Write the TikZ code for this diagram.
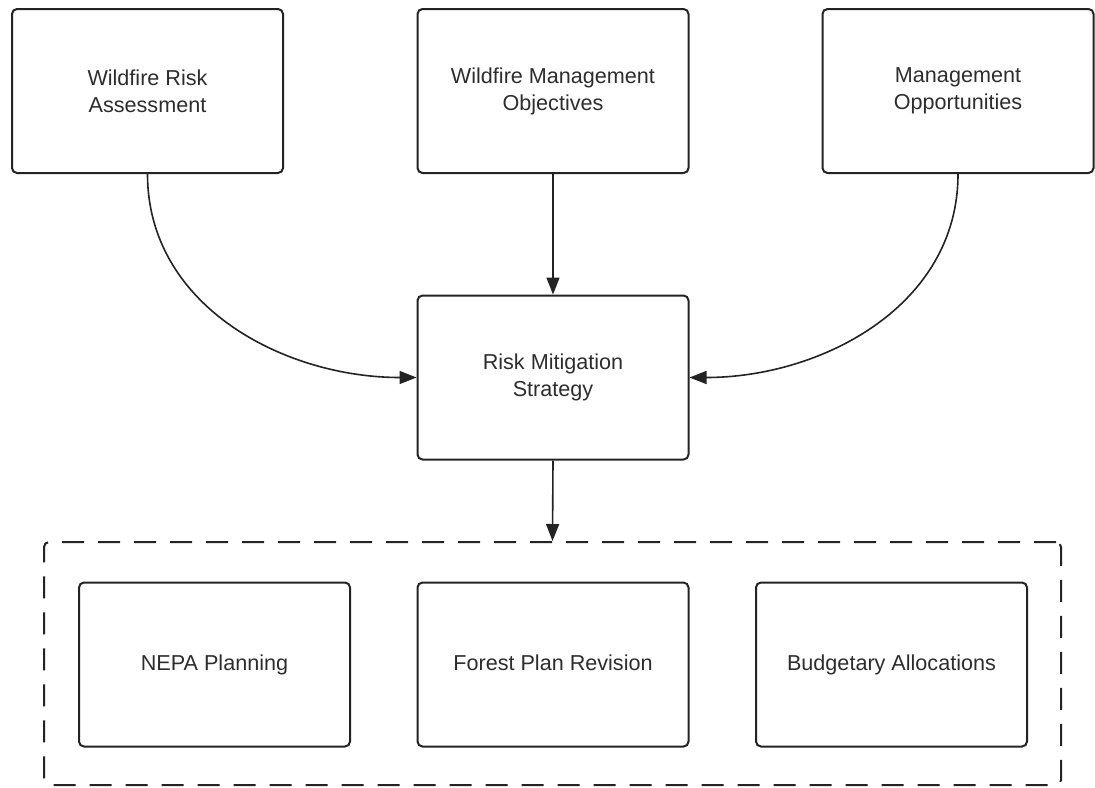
\documentclass[tikz,border=0pt]{standalone}
\usepackage{fontspec}
\setmainfont{Liberation Sans}
\usetikzlibrary{arrows.meta}
\definecolor{inkgrey}{RGB}{35,35,35}
\definecolor{textgrey}{RGB}{45,45,45}

\begin{document}
\begin{tikzpicture}[x=0.5pt, y=-0.5pt,
    box/.style={draw=inkgrey, line width=1pt, rounded corners=2.5pt,
      minimum width=135.5pt, minimum height=82pt, inner sep=0pt,
      align=center, text=textgrey, font=\fontsize{10.8}{13.5}\selectfont},
    outbox/.style={box, text height=7.8pt, text depth=2.2pt},
    groupbox/.style={draw=inkgrey, line width=1pt, dash pattern=on 11pt off 7pt,
      rounded corners=2.5pt, minimum width=508.5pt, minimum height=121.5pt, inner sep=0pt},
    flow/.style={draw=inkgrey, line width=0.8pt, -{Triangle[length=8.5pt,width=6.5pt]}}]
    \useasboundingbox (0,0) rectangle (1095,787);

    % Inputs (top row)
    \node[box] (riskassess) at (147.5,91) {Wildfire Risk\\Assessment};
    \node[box] (mgmtobj) at (553,91) {Wildfire Management\\Objectives};
    \node[box] (mgmtopp) at (958,91) {Management\\Opportunities};

    % Strategy
    \node[box] (strategy) at (553,377.5) {Risk Mitigation\\Strategy};

    % Outputs, grouped in the dashed frame
    \node[groupbox] (outputs) at (552.5,663.5) {};
    \node[outbox] (nepa) at (214.5,664.5) {NEPA Planning};
    \node[outbox] (forestplan) at (553,664.5) {Forest Plan Revision};
    \node[outbox] (budget) at (891.5,664.5) {Budgetary Allocations};

    % Connectors
    \draw[flow] (riskassess.south) to[out=-90,in=180] (strategy.west);
    \draw[flow] (mgmtobj.south) -- (strategy.north);
    \draw[flow] (mgmtopp.south) to[out=-90,in=0] (strategy.east);
    \draw[flow] (strategy.south) -- (outputs.north);
\end{tikzpicture}
\end{document}
